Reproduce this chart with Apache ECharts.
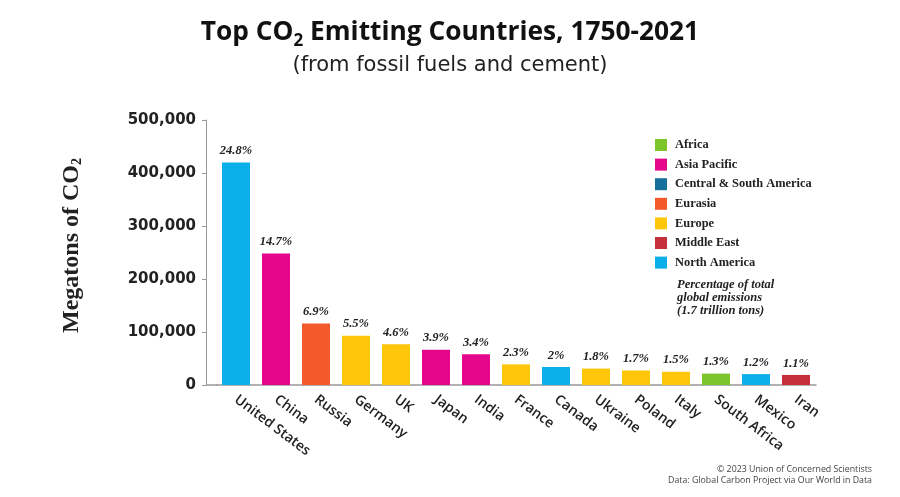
<!DOCTYPE html>
<html>
<head>
<meta charset="utf-8">
<script src="https://cdn.jsdelivr.net/npm/echarts@6/dist/echarts.min.js"></script>
<style>
html,body{margin:0;padding:0;background:#fff;}
#chart{width:900px;height:497px;}
</style>
</head>
<body>
<div id="chart"></div>
<script>
// ---- data ----
const categories = ['United States','China','Russia','Germany','UK','Japan','India','France','Canada','Ukraine','Poland','Italy','South Africa','Mexico','Iran'];
const emissions = [420000, 248000, 116000, 93000, 77000, 66500, 58000, 39000, 34000, 31000, 27500, 25000, 21500, 20500, 19000];
const percentLabels = ['24.8%','14.7%','6.9%','5.5%','4.6%','3.9%','3.4%','2.3%','2%','1.8%','1.7%','1.5%','1.3%','1.2%','1.1%'];
const countryRegion = ['North America','Asia Pacific','Eurasia','Europe','Europe','Asia Pacific','Asia Pacific','Europe','North America','Europe','Europe','Europe','Africa','North America','Middle East'];
const regions = ['Africa','Asia Pacific','Central & South America','Eurasia','Europe','Middle East','North America'];
const yTicks = [0, 100000, 200000, 300000, 400000, 500000];

// ---- style ----
const regionColors = {
  'Africa':'#7cc52b',
  'Asia Pacific':'#e4068b',
  'Central & South America':'#16709b',
  'Eurasia':'#f3592b',
  'Europe':'#fec70c',
  'Middle East':'#c5303a',
  'North America':'#0aaee8'
};
const serif = 'Liberation Serif';
const sans = 'Open Sans';

function fmt(v){ return String(v).replace(/\B(?=(\d{3})+(?!\d))/g, ','); }

const series = regions.map(r => ({
  name: r,
  type: 'bar',
  stack: 'all',
  barWidth: 28,
  itemStyle: { color: regionColors[r] },
  data: emissions.map((v, i) => countryRegion[i] === r ? v : null),
  label: {
    show: true,
    position: 'top',
    distance: 5,
    formatter: p => percentLabels[p.dataIndex],
    fontFamily: serif,
    fontStyle: 'italic',
    fontWeight: 'bold',
    fontSize: 12.5,
    color: '#222'
  },
  emphasis: { disabled: true }
}));

const chart = echarts.init(document.getElementById('chart'), null, { renderer: 'canvas' });
chart.setOption({
  animation: false,
  backgroundColor: '#fff',
  title: [
    {
      text: 'Top CO{sub|2} Emitting Countries, 1750-2021',
      left: 'center', top: 11,
      textStyle: {
        fontFamily: sans, fontWeight: 'bold', fontSize: 26.3, color: '#111', lineHeight: 34,
        rich: { sub: { fontFamily: sans, fontWeight: 'bold', fontSize: 17, color: '#111', verticalAlign: 'bottom', lineHeight: 14 } }
      }
    },
    {
      text: '(from fossil fuels and cement)',
      left: 'center', top: 50,
      textStyle: { fontFamily: 'DejaVu Sans', fontWeight: 'normal', fontSize: 21, color: '#222' }
    },
    {
      text: 'Percentage of total\nglobal emissions\n(1.7 trillion tons)',
      left: 672, top: 273,
      textStyle: { fontFamily: serif, fontStyle: 'italic', fontWeight: 'bold', fontSize: 12.5, lineHeight: 13, color: '#222' }
    },
    {
      text: '\u00a9 2023 Union of Concerned Scientists',
      right: 23, top: 460,
      textStyle: { fontFamily: sans, fontWeight: 'normal', fontSize: 8.8, color: '#444' }
    },
    {
      text: 'Data: Global Carbon Project via Our World in Data',
      right: 23, top: 471,
      textStyle: { fontFamily: sans, fontWeight: 'normal', fontSize: 8.8, color: '#444' }
    }
  ],
  legend: {
    orient: 'vertical',
    left: 650, top: 134,
    itemWidth: 12, itemHeight: 12, itemGap: 7.6,
    icon: 'rect',
    selectedMode: false,
    data: regions,
    textStyle: { fontFamily: serif, fontWeight: 'bold', fontSize: 12.4, color: '#222', padding: [0,0,0,3] }
  },
  grid: { left: 216, right: 84, top: 120, bottom: 112, containLabel: false },
  xAxis: {
    type: 'category',
    data: categories,
    axisLine: { lineStyle: { color: '#999', width: 1.5 } },
    axisTick: { show: false },
    axisLabel: {
      interval: 0, rotate: -37, margin: 13,
      fontFamily: sans, fontWeight: 600, fontSize: 14, color: '#222'
    }
  },
  yAxis: {
    type: 'value',
    min: yTicks[0], max: yTicks[yTicks.length - 1], interval: yTicks[1] - yTicks[0],
    offset: 10,
    name: 'Megatons of CO{sub|2}',
    nameLocation: 'middle',
    nameGap: 122,
    nameTextStyle: {
      fontFamily: serif, fontWeight: 'bold', fontSize: 24, color: '#222',
      padding: [0, 0, 0, 14],
      rich: { sub: { fontFamily: serif, fontWeight: 'bold', fontSize: 14, color: '#222', verticalAlign: 'bottom', lineHeight: 12 } }
    },
    axisLine: { show: true, lineStyle: { color: '#999', width: 1 } },
    axisTick: { show: true, length: 4, lineStyle: { color: '#999' } },
    splitLine: { show: false },
    axisLabel: {
      margin: 10,
      formatter: v => fmt(v),
      fontFamily: 'DejaVu Sans', fontWeight: 'bold', fontSize: 15, color: '#222'
    }
  },
  graphic: [{
    type: 'line',
    shape: { x1: 206, y1: 385, x2: 217, y2: 385 },
    style: { stroke: '#999', lineWidth: 1.5 }
  }],
  series: series
});
</script>
</body>
</html>
